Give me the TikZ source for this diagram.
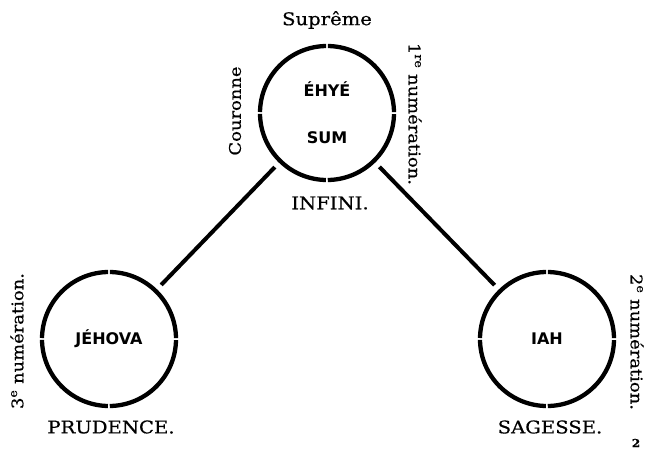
\documentclass[tikz,border=0pt]{standalone}
\usepackage{fontspec}
\setmainfont{DejaVu Serif}[FakeStretch=1.12,FakeBold=0.5]
\newfontfamily\grotesque{DejaVu Sans}
\usepackage{tikz}

\begin{document}
\begin{tikzpicture}[x=1pt,y=-1pt,
  sephira/.style={circle,draw,line width=4.3pt,minimum size=134pt,inner sep=0pt,
    dash pattern=on 103.4pt off 1.8pt,dash phase=104.3pt,align=center,
    font=\grotesque\bfseries\fontsize{16}{18}\selectfont},
  canal/.style={line width=4pt,shorten <=6pt,shorten >=6pt},
  titre/.style={font=\fontsize{17.5}{20}\selectfont},
  numero/.style={font=\fontsize{16}{18}\selectfont}]
\useasboundingbox (0,0) rectangle (651,451);

\node[sephira] (ehye) at (327,113) {ÉHYÉ\\[29pt]SUM};
\node[sephira] (jehova) at (109,339) {JÉHOVA};
\node[sephira] (iah) at (547,339) {IAH};

\draw[canal] (ehye) -- (jehova);
\draw[canal] (ehye) -- (iah);

\node[titre] (supreme) at (327,20) {Suprême};
\node[numero,rotate=90] (couronne) at (235,111) {Couronne};
\node[numero,rotate=-90] (num1) at (415,114) {1\textsuperscript{re} numération.};
\node[titre] (infini) at (330,203) {INFINI.};

\node[numero,rotate=90] (num3) at (17,341) {3\textsuperscript{e} numération.};
\node[titre] (prudence) at (111,427) {PRUDENCE.};

\node[numero,rotate=-90] (num2) at (637,342) {2\textsuperscript{e} numération.};
\node[titre] (sagesse) at (550,427) {SAGESSE.};

\node[font=\bfseries\fontsize{11}{12}\selectfont] (folio) at (636,443) {2};
\end{tikzpicture}
\end{document}
